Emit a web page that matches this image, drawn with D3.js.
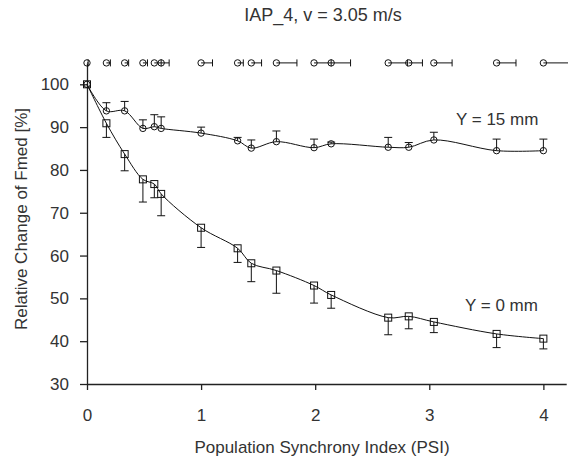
<!DOCTYPE html>
<html lang="en">
<head>
    <meta charset="UTF-8">
    <title>IAP_4</title>
    <script src="https://cdn.jsdelivr.net/npm/d3@7"></script>
    <style>
        body { margin: 0; background: #fff; }
        svg text { font-family: "Liberation Sans", Arial, sans-serif; fill: #333; }
    </style>
</head>
<body>
    <svg id="chart" width="568" height="461"></svg>

    <script>
        // PSI value of each recording, and its spread (drawn along the top)
        const psi    = [0, 0.17, 0.33, 0.49, 0.59, 0.65, 1.0, 1.32, 1.44, 1.66, 1.99, 2.14, 2.64, 2.82, 3.04, 3.59, 4.0];
        const psiErr = [0.01, 0.035, 0.035, 0.04, 0.06, 0.07, 0.10, 0.05, 0.09, 0.18, 0.15, 0.17, 0.17, 0.12, 0.16, 0.17, 0.25];

        // Y = 15 mm (circles, error up)
        const y15    = [100, 93.8, 93.8, 89.7, 90.1, 89.7, 88.6, 86.8, 85.1, 86.6, 85.2, 86.1, 85.3, 85.3, 87.0, 84.5, 84.5];
        const y15Err = [0, 1.9, 2.2, 2.0, 2.8, 2.7, 1.4, 0.8, 1.9, 2.5, 2.0, 0.4, 2.3, 1.1, 1.8, 2.7, 2.7];

        // Y = 0 mm (squares, error down)
        const y0     = [100, 90.9, 83.7, 77.8, 76.7, 74.4, 66.5, 61.7, 58.2, 56.5, 53.0, 50.8, 45.5, 45.8, 44.5, 41.7, 40.6];
        const y0Err  = [0, 3.3, 3.9, 5.3, 3.2, 5.1, 4.6, 3.3, 4.3, 5.3, 4.1, 3.1, 4.0, 2.9, 2.5, 3.2, 2.4];

        const xTicks = [0, 1, 2, 3, 4];
        const yTicks = [30, 40, 50, 60, 70, 80, 90, 100];
        const topRow = 105;

        const svg = d3.select('#chart');
        const x = d3.scaleLinear().domain([0, 4.2]).range([87, 566.2]);
        const y = d3.scaleLinear().domain([30, 105]).range([384, 62.9]);

        // axes
        const xAxis = svg.append('g')
            .attr('transform', `translate(0,${y(30)})`)
            .call(d3.axisBottom(x).tickValues(xTicks).tickFormat(d3.format('d'))
                .tickSize(6).tickSizeOuter(0).tickPadding(19));
        const yAxis = svg.append('g')
            .attr('transform', `translate(${x(0)},0)`)
            .call(d3.axisLeft(y).tickValues(yTicks).tickSize(7).tickSizeOuter(0).tickPadding(11));

        [xAxis, yAxis].forEach(g => {
            g.selectAll('path, line').attr('stroke', '#222').attr('stroke-width', 1.3);
            g.selectAll('text').attr('font-size', 17).attr('fill', '#333')
                .attr('font-family', '"Liberation Sans", Arial, sans-serif');
        });

        const line = d3.line().curve(d3.curveCatmullRom.alpha(0.5))
            .x(d => x(d[0])).y(d => y(d[1]));

        function drawSeries(vals, errs, dir, shape) {
            const pts = psi.map((p, i) => [p, vals[i], errs[i]]);
            const g = svg.append('g').attr('stroke', '#111').attr('fill', 'none');

            g.append('path').attr('d', line(pts)).attr('stroke-width', 1);

            const eb = g.selectAll('.eb').data(pts.filter(d => d[2] > 0)).enter().append('g');
            eb.append('line')
                .attr('x1', d => x(d[0])).attr('x2', d => x(d[0]))
                .attr('y1', d => y(d[1])).attr('y2', d => y(d[1] + dir * d[2]));
            eb.append('line')
                .attr('x1', d => x(d[0]) - 4).attr('x2', d => x(d[0]) + 4)
                .attr('y1', d => y(d[1] + dir * d[2])).attr('y2', d => y(d[1] + dir * d[2]));

            if (shape === 'circle') {
                g.selectAll('.m').data(pts).enter().append('circle')
                    .attr('cx', d => x(d[0])).attr('cy', d => y(d[1])).attr('r', 3.2);
            } else {
                g.selectAll('.m').data(pts).enter().append('rect')
                    .attr('x', d => x(d[0]) - 3.5).attr('y', d => y(d[1]) - 3.5)
                    .attr('width', 7).attr('height', 7);
            }
        }

        drawSeries(y0, y0Err, -1, 'square');
        drawSeries(y15, y15Err, 1, 'circle');

        // PSI spread row along the top
        const row = svg.append('g').attr('stroke', '#111').attr('fill', 'none');
        const rp = psi.map((p, i) => [p, psiErr[i]]);
        row.selectAll('.h').data(rp).enter().append('line')
            .attr('x1', d => x(d[0])).attr('x2', d => x(d[0] + d[1]))
            .attr('y1', y(topRow)).attr('y2', y(topRow));
        row.selectAll('.c').data(rp).enter().append('line')
            .attr('x1', d => x(d[0] + d[1])).attr('x2', d => x(d[0] + d[1]))
            .attr('y1', y(topRow) - 3.5).attr('y2', y(topRow) + 3.5);
        row.selectAll('.o').data(rp).enter().append('circle')
            .attr('cx', d => x(d[0])).attr('cy', y(topRow)).attr('r', 3.2);

        // labels
        svg.append('text').attr('x', 323).attr('y', 21).attr('text-anchor', 'middle')
            .attr('font-size', 18).text('IAP_4, v = 3.05 m/s');
        svg.append('text').attr('x', 322).attr('y', 453).attr('text-anchor', 'middle')
            .attr('font-size', 17).text('Population Synchrony Index (PSI)');
        svg.append('text').attr('transform', 'translate(27,219) rotate(-90)')
            .attr('text-anchor', 'middle').attr('font-size', 17).text('Relative Change of Fmed [%]');
        svg.append('text').attr('x', 456).attr('y', 125).attr('font-size', 17).text('Y = 15 mm');
        svg.append('text').attr('x', 465).attr('y', 311).attr('font-size', 17).text('Y = 0 mm');
    </script>
</body>
</html>
